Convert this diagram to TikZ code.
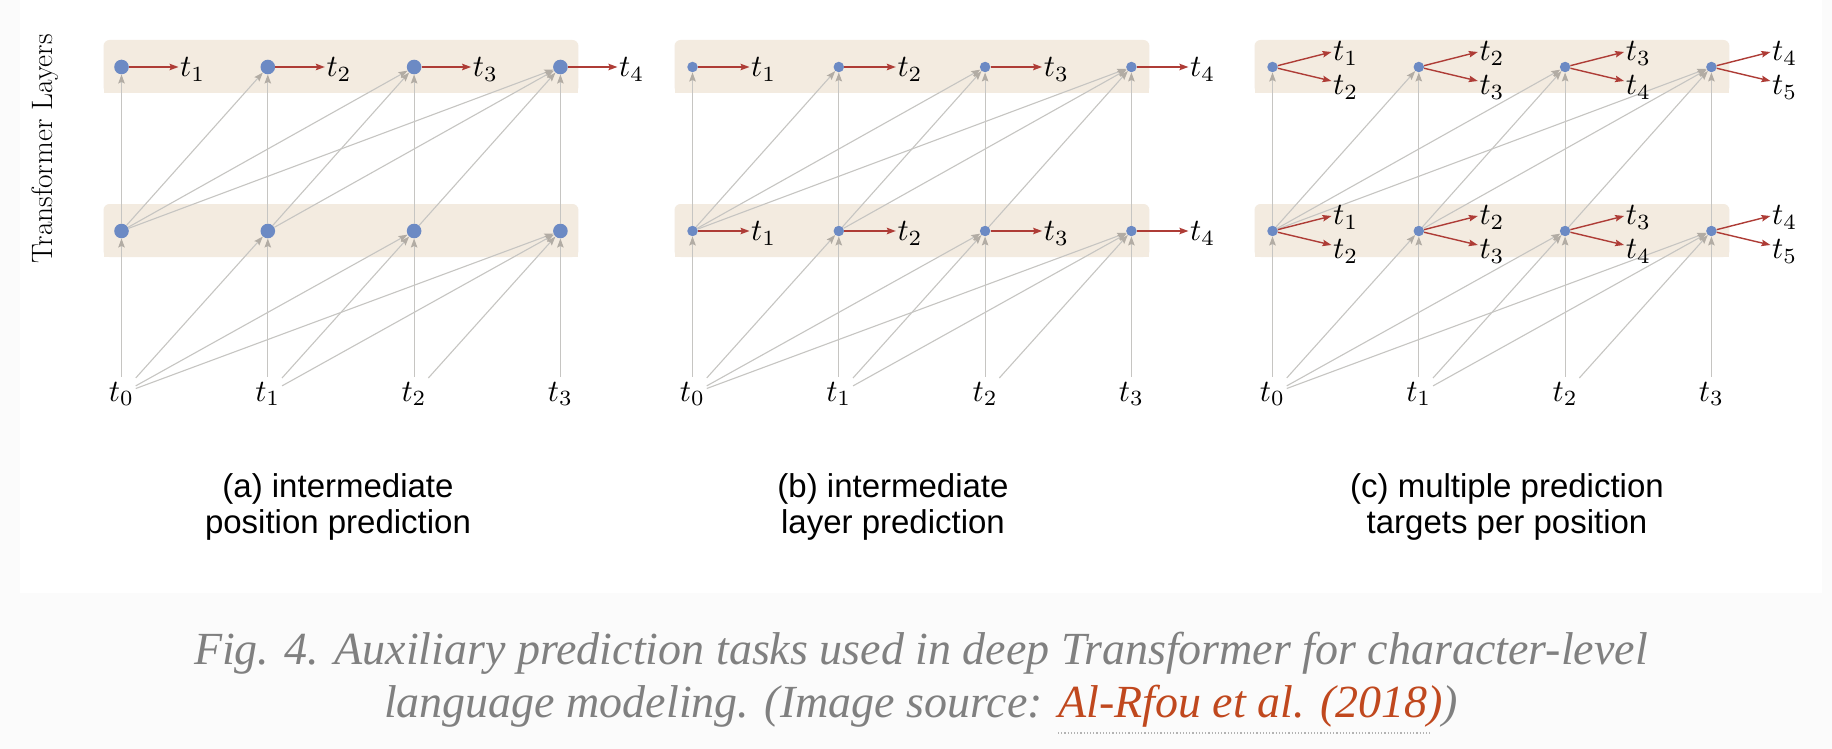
\documentclass[tikz,border=0pt]{standalone}
\usepackage{graphicx}
\usepackage{fontspec}
\setsansfont{Liberation Sans}
\newfontfamily\capfont{Liberation Serif}
\usetikzlibrary{arrows.meta,calc}
\definecolor{bandcol}{RGB}{243,235,224}
\definecolor{unitcol}{RGB}{108,138,196}
\definecolor{linkcol}{RGB}{198,197,194}
\definecolor{tipcol}{RGB}{178,172,164}
\definecolor{predcol}{RGB}{174,60,54}
\definecolor{capgray}{RGB}{128,128,128}
\definecolor{srccol}{RGB}{192,72,30}
\def\colsep{146.3}
\def\ytop{67}
\def\ybot{231}
\def\yin{401}
\newcommand\tk[1]{\scalebox{3.1}{\normalsize$t_{#1}$}}

\tikzset{
  unit/.style={circle,fill=unitcol,inner sep=0pt,minimum size=#1},
  tok/.style={inner sep=1.5pt,font=\fontsize{29}{34}\selectfont},
  link/.style={draw=linkcol,line width=1.1pt,-{Stealth[length=9pt,width=6.5pt,inset=1.5pt,color=tipcol]}},
  pred/.style={draw=predcol,line width=1.4pt,-{Stealth[length=9pt,width=6.5pt,inset=1.5pt]}},
  subcap/.style={font=\sffamily\fontsize{33}{36}\selectfont,align=center,anchor=base}
}

\begin{document}
\begin{tikzpicture}[x=1pt,y=-1pt]
  \useasboundingbox (0,0) rectangle (1832,749);
  \fill[black!1.5] (0,0) rectangle (1832,749);
  \fill[white] (20,0) rectangle (1822,593);

  \node[rotate=90,font=\fontsize{29.5}{34}\selectfont] (ylab) at (45,149) {Transformer Layers};

  \foreach \p/\x/\s in {a/121.5/14.6pt,b/692.5/10.5pt,c/1272.5/10.5pt} {
    \foreach \y in {\ytop,\ybot} {
      \fill[bandcol,rounded corners=6pt] (\x-18,\y-27) rectangle (\x+3*\colsep+18,\y+26);
      \fill[bandcol] (\x-18,\y-15) rectangle (\x+3*\colsep+18,\y+26);
    }
    \foreach \i in {0,...,3} {
      \node[unit=\s] (\p-b\i) at (\x+\i*\colsep,\ybot) {};
      \node[unit=\s] (\p-t\i) at (\x+\i*\colsep,\ytop) {};
      \node[tok,inner ysep=5pt,anchor=base] (\p-in\i) at (\x+\i*\colsep,\yin) {\tk{\i}};
    }
    \foreach \i in {0,...,3}
      \foreach \j in {\i,...,3} {
        \draw[link] (\p-in\i) -- (\p-b\j);
        \draw[link] (\p-b\i) -- (\p-t\j);
      }
  }

  % one target per position
  \foreach \i in {0,...,3} {
    \pgfmathtruncatemacro\n{\i+1}
    \node[tok,anchor=base west] (a-o\i) at ($(a-t\i)+(57,9.5)$) {\tk{\n}};
    \draw[pred] (a-t\i) -- (a-t\i -| a-o\i.west);
    \foreach \l in {t,b} {
      \node[tok,anchor=base west] (b-\l o\i) at ($(b-\l\i)+(57,9.5)$) {\tk{\n}};
      \draw[pred] (b-\l\i) -- (b-\l\i -| b-\l o\i.west);
    }
  }

  % two targets per position
  \foreach \i in {0,...,3} {
    \pgfmathtruncatemacro\n{\i+1}
    \pgfmathtruncatemacro\m{\i+2}
    \foreach \l in {t,b} {
      \node[tok,anchor=base west] (c-\l u\i) at ($(c-\l\i)+(59,-6.5)$) {\tk{\n}};
      \node[tok,anchor=base west] (c-\l d\i) at ($(c-\l\i)+(59,27.5)$) {\tk{\m}};
      \draw[pred] (c-\l\i) -- ($(c-\l u\i.base west)+(0,-8.5)$);
      \draw[pred] (c-\l\i) -- ($(c-\l d\i.base west)+(0,-13.5)$);
    }
  }

  \node[subcap] (capa) at (338,533) {(a) intermediate\\position prediction};
  \node[subcap] (capb) at (893,533) {(b) intermediate\\layer prediction};
  \node[subcap] (capc) at (1507,533) {(c) multiple prediction\\targets per position};

  \node[font=\capfont\itshape\fontsize{46}{53}\selectfont,text=capgray,align=center,anchor=base] (figcap) at (921,717)
    {Fig. 4. Auxiliary prediction tasks used in deep Transformer for character-level\\
     language modeling. (Image source: \textcolor{srccol}{Al-Rfou et al. (2018)})};
  \draw[capgray!60,dotted,line width=1.2pt] (1058,733) -- (1432,733);
\end{tikzpicture}
\end{document}
